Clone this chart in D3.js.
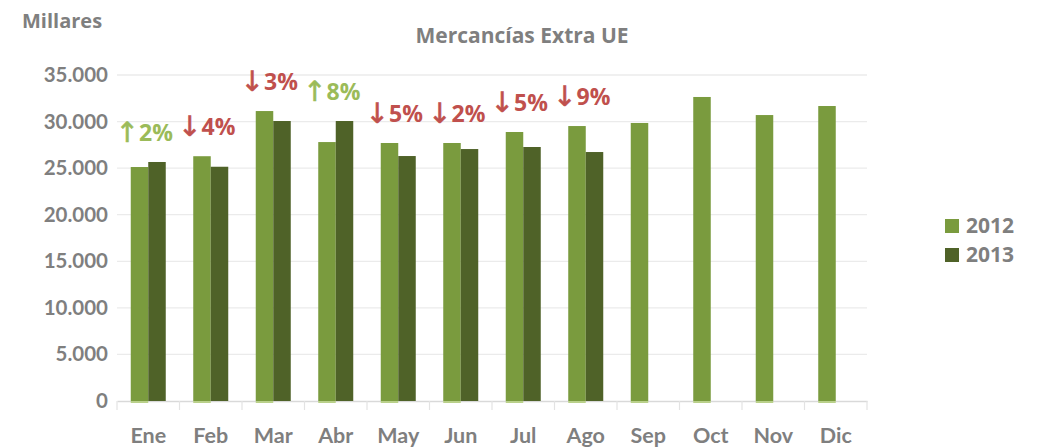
<!DOCTYPE html>
<html><head><meta charset="utf-8">
<script src="https://cdn.jsdelivr.net/npm/d3@7"></script>
<style>body{margin:0;background:#fff}svg{display:block}</style>
</head><body><svg id="c" width="1041" height="448"></svg>
<script>
const months = ["Ene","Feb","Mar","Abr","May","Jun","Jul","Ago","Sep","Oct","Nov","Dic"];
const series = ["2012","2013"];
const v2012 = [25120,26280,31130,27800,27700,27700,28880,29520,29850,32640,30700,31670];
const v2013 = [25660,25150,30060,30060,26300,27050,27270,26730,null,null,null,null];
const changeArrows = ["↑","↓","↓","↑","↓","↓","↓","↓"];
const changePct = ["2%","4%","3%","8%","5%","2%","5%","9%"];
const yTicks = [0,5000,10000,15000,20000,25000,30000,35000];

const svg = d3.select("#c");
const fontA = "'Open Sans', Lato, sans-serif";
const fontB = "Lato, 'Open Sans', sans-serif";
const gray = "#7f7f7f";
const colors = ["#7a9b3e","#4f6228"];
const x = d3.scaleBand().domain(months).range([117,867]).paddingInner(0).paddingOuter(0);
const y = d3.scaleLinear().domain([0,35000]).range([401,75]);
const fmt = d => d3.format(",")(d).replace(/,/g,".");

// gridlines
svg.append("g").selectAll("line").data(yTicks.filter(d=>d>0)).join("line")
  .attr("x1",117).attr("x2",867).attr("y1",d=>y(d)).attr("y2",d=>y(d))
  .attr("stroke","#ebebeb").attr("stroke-width",1.3);

// y axis labels
const ya = svg.append("g").attr("transform","translate(108,0)")
  .call(d3.axisLeft(y).tickValues(yTicks).tickFormat(fmt).tickSize(0).tickPadding(0));
ya.select(".domain").remove();
ya.selectAll("text").attr("font-family",fontB).attr("font-weight","bold").attr("font-size",20.5).attr("fill",gray);

// x axis
const xa = svg.append("g").attr("transform","translate(0,401)")
  .call(d3.axisBottom(x).tickSize(0).tickPadding(27));
xa.select(".domain").attr("stroke","#d9d9d9").attr("stroke-width",1.3);
xa.selectAll("text").attr("font-family",fontB).attr("font-weight","bold").attr("font-size",21.5).attr("fill",gray);
// boundary tick marks
svg.append("g").selectAll("line").data(d3.range(13)).join("line")
  .attr("x1",i=>117+i*x.step()).attr("x2",i=>117+i*x.step())
  .attr("y1",401).attr("y2",410).attr("stroke","#e3e3e3").attr("stroke-width",1.2);

// bars
const bw = 17.5;
const bars = svg.append("g");
months.forEach((m,i)=>{
  const c = x(m)+x.bandwidth()/2;
  [v2012[i],v2013[i]].forEach((v,k)=>{
    if(v==null) return;
    bars.append("rect").attr("x",c-bw+k*bw).attr("width",bw)
      .attr("y",y(v)).attr("height",y(0)-y(v)).attr("fill",colors[k]);
  });
  bars.append("rect").attr("x",c-bw).attr("width",bw).attr("y",y(0)).attr("height",2).attr("fill","#b9d08a");
});

// change annotations
const annColor = (i)=>changeArrows[i]==="↑"?"#9bbb59":"#c0504d";
const ann = svg.append("g").selectAll("text").data(changePct).join("text")
  .attr("x",(d,i)=>x(months[i])+x.bandwidth()/2-4)
  .attr("y",(d,i)=>y(Math.max(v2012[i],v2013[i]))-21)
  .attr("text-anchor","middle")
  .attr("font-family",fontA).attr("font-weight","bold").attr("font-size",23)
  .attr("fill",(d,i)=>annColor(i));
ann.append("tspan").attr("font-family","'DejaVu Sans'").attr("font-weight","normal").attr("font-size",28).attr("dy",1)
  .attr("stroke",(d,i)=>annColor(i)).attr("stroke-width",0.6)
  .text((d,i)=>changeArrows[i]);
ann.append("tspan").attr("dy",-1).text(d=>d);

// titles
svg.append("text").attr("x",22).attr("y",28).attr("font-family",fontA).attr("font-weight","bold")
  .attr("font-size",20).attr("fill",gray).text("Millares");
svg.append("text").attr("x",522).attr("y",43).attr("text-anchor","middle").attr("font-family",fontA)
  .attr("font-weight","bold").attr("font-size",21).attr("fill",gray).text("Mercancías Extra UE");

// legend
const lg = svg.append("g");
series.forEach((s,k)=>{
  lg.append("rect").attr("x",945).attr("y",219+k*29).attr("width",14).attr("height",14).attr("fill",colors[k]);
  lg.append("text").attr("x",966).attr("y",233+k*29).attr("font-family",fontA).attr("font-weight","bold")
    .attr("font-size",21).attr("fill",gray).text(s);
});
</script></body></html>
